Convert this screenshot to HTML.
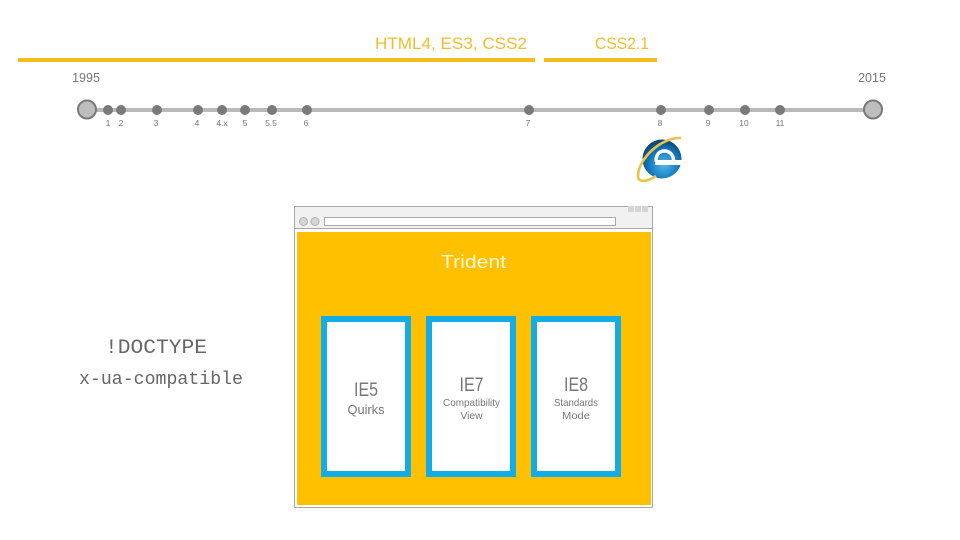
<!DOCTYPE html>
<html>
<head>
<meta charset="utf-8">
<style>
html,body{margin:0;padding:0;background:#fff;}
svg{display:block;}
text{font-family:"Liberation Sans",sans-serif;}
</style>
</head>
<body>
<svg width="960" height="540" viewBox="0 0 960 540" xmlns="http://www.w3.org/2000/svg">
<defs>
<radialGradient id="g" cx="55%" cy="65%" r="70%"><stop offset="0" stop-color="#52b8ea"/><stop offset=".55" stop-color="#1479bd"/><stop offset="1" stop-color="#0a3560"/></radialGradient>
</defs>
<rect width="960" height="540" fill="#fff"/>

<text x="451" y="49" font-size="17" fill="#f0be2c" text-anchor="middle" textLength="152" lengthAdjust="spacingAndGlyphs">HTML4, ES3, CSS2</text>
<text x="622" y="49" font-size="17" fill="#f0be2c" text-anchor="middle" textLength="54" lengthAdjust="spacingAndGlyphs">CSS2.1</text>
<rect x="18" y="58" width="517" height="4" fill="#f5bd1c"/>
<rect x="544" y="58" width="113" height="4" fill="#f5bd1c"/>

<text x="86" y="82" font-size="12.500" fill="#777" text-anchor="middle">1995</text>
<text x="872" y="82" font-size="12.500" fill="#777" text-anchor="middle">2015</text>

<rect x="87" y="108" width="786" height="4" fill="#b9b9b9"/>
<circle cx="87" cy="109.500" r="9" fill="#bdbdbd" stroke="#7a7a7a" stroke-width="2"/>
<circle cx="873" cy="109.500" r="9" fill="#bdbdbd" stroke="#7a7a7a" stroke-width="2"/>
<g fill="#7a7a7a">
<circle cx="108" cy="110" r="5"/><circle cx="121" cy="110" r="5"/><circle cx="157" cy="110" r="5"/><circle cx="198" cy="110" r="5"/><circle cx="222" cy="110" r="5"/><circle cx="245" cy="110" r="5"/><circle cx="272" cy="110" r="5"/><circle cx="307" cy="110" r="5"/><circle cx="529" cy="110" r="5"/><circle cx="661" cy="110" r="5"/><circle cx="709" cy="110" r="5"/><circle cx="745" cy="110" r="5"/><circle cx="780" cy="110" r="5"/>
</g>
<g font-size="8.500" fill="#777" text-anchor="middle">
<text x="108" y="126">1</text><text x="121" y="126">2</text><text x="156" y="126">3</text><text x="197" y="126">4</text><text x="222" y="126">4.x</text><text x="245" y="126">5</text><text x="271" y="126">5.5</text><text x="306" y="126">6</text><text x="528" y="126">7</text><text x="660" y="126">8</text><text x="708" y="126">9</text><text x="744" y="126">10</text><text x="780" y="126">11</text>
</g>

<!-- IE logo -->
<circle cx="662" cy="159" r="19.500" fill="url(#g)"/>
<path d="M656 161.500C656 154 660 151 664.500 151S673 154 673.500 160" fill="none" stroke="#fff" stroke-width="3.500"/>
<rect x="655" y="160" width="27" height="5" fill="#fff"/>
<path d="M675 169Q672 174 665 174Q659 174 656.500 168" fill="none" stroke="#fff" stroke-width="0" />
<path d="M681 138C660 137 638 160 638 176C638 183 647 182 656 176" fill="none" stroke="#e8c44a" stroke-width="2.600"/>

<!-- Browser -->
<rect x="294.500" y="206.500" width="358" height="301" fill="#f1f1f2" stroke="#a8a8aa"/>
<rect x="295" y="229" width="357" height="278" fill="#fff"/>
<line x1="295" y1="228.500" x2="652" y2="228.500" stroke="#a8a8aa"/>
<rect x="297" y="232" width="354" height="273" fill="#ffc000"/>
<rect x="324.500" y="217.500" width="291" height="8" fill="#fff" stroke="#a8a8aa"/>
<circle cx="303.500" cy="221.500" r="4" fill="#d5d5d5" stroke="#b0b0b0"/>
<circle cx="315" cy="221.500" r="4" fill="#d5d5d5" stroke="#b0b0b0"/>
<rect x="628" y="206" width="20" height="6" fill="#d5d5d5"/>
<path d="M634.500 206v6M641.500 206v6" stroke="#f1f1f2"/>

<text x="473.500" y="268" font-size="18" fill="#fff8d8" text-anchor="middle" textLength="65" lengthAdjust="spacingAndGlyphs">Trident</text>

<g fill="#fff" stroke="#12ade6" stroke-width="6">
<rect x="324" y="319" width="84" height="155"/>
<rect x="429" y="319" width="84" height="155"/>
<rect x="534" y="319" width="84" height="155"/>
</g>

<g text-anchor="middle" fill="#777">
<text x="366" y="396" font-size="19" textLength="24" lengthAdjust="spacingAndGlyphs">IE5</text>
<text x="366" y="414" font-size="12.500" textLength="37" lengthAdjust="spacingAndGlyphs">Quirks</text>
<text x="471.500" y="391" font-size="19" textLength="24" lengthAdjust="spacingAndGlyphs">IE7</text>
<text x="471.500" y="406" font-size="10.500" textLength="57" lengthAdjust="spacingAndGlyphs">Compatibility</text>
<text x="471.500" y="419" font-size="10.500" textLength="22" lengthAdjust="spacingAndGlyphs">View</text>
<text x="576" y="391" font-size="19" textLength="24" lengthAdjust="spacingAndGlyphs">IE8</text>
<text x="576" y="406" font-size="10.500" textLength="44" lengthAdjust="spacingAndGlyphs">Standards</text>
<text x="576" y="419" font-size="10.500" textLength="28" lengthAdjust="spacingAndGlyphs">Mode</text>
</g>

<text x="156" y="353" font-size="20.500" fill="#666" text-anchor="middle" style="font-family:'Liberation Mono',monospace" textLength="102" lengthAdjust="spacingAndGlyphs">!DOCTYPE</text>
<text x="161" y="384" font-size="18" fill="#666" text-anchor="middle" style="font-family:'Liberation Mono',monospace" textLength="164" lengthAdjust="spacingAndGlyphs">x-ua-compatible</text>
</svg>
</body>
</html>
